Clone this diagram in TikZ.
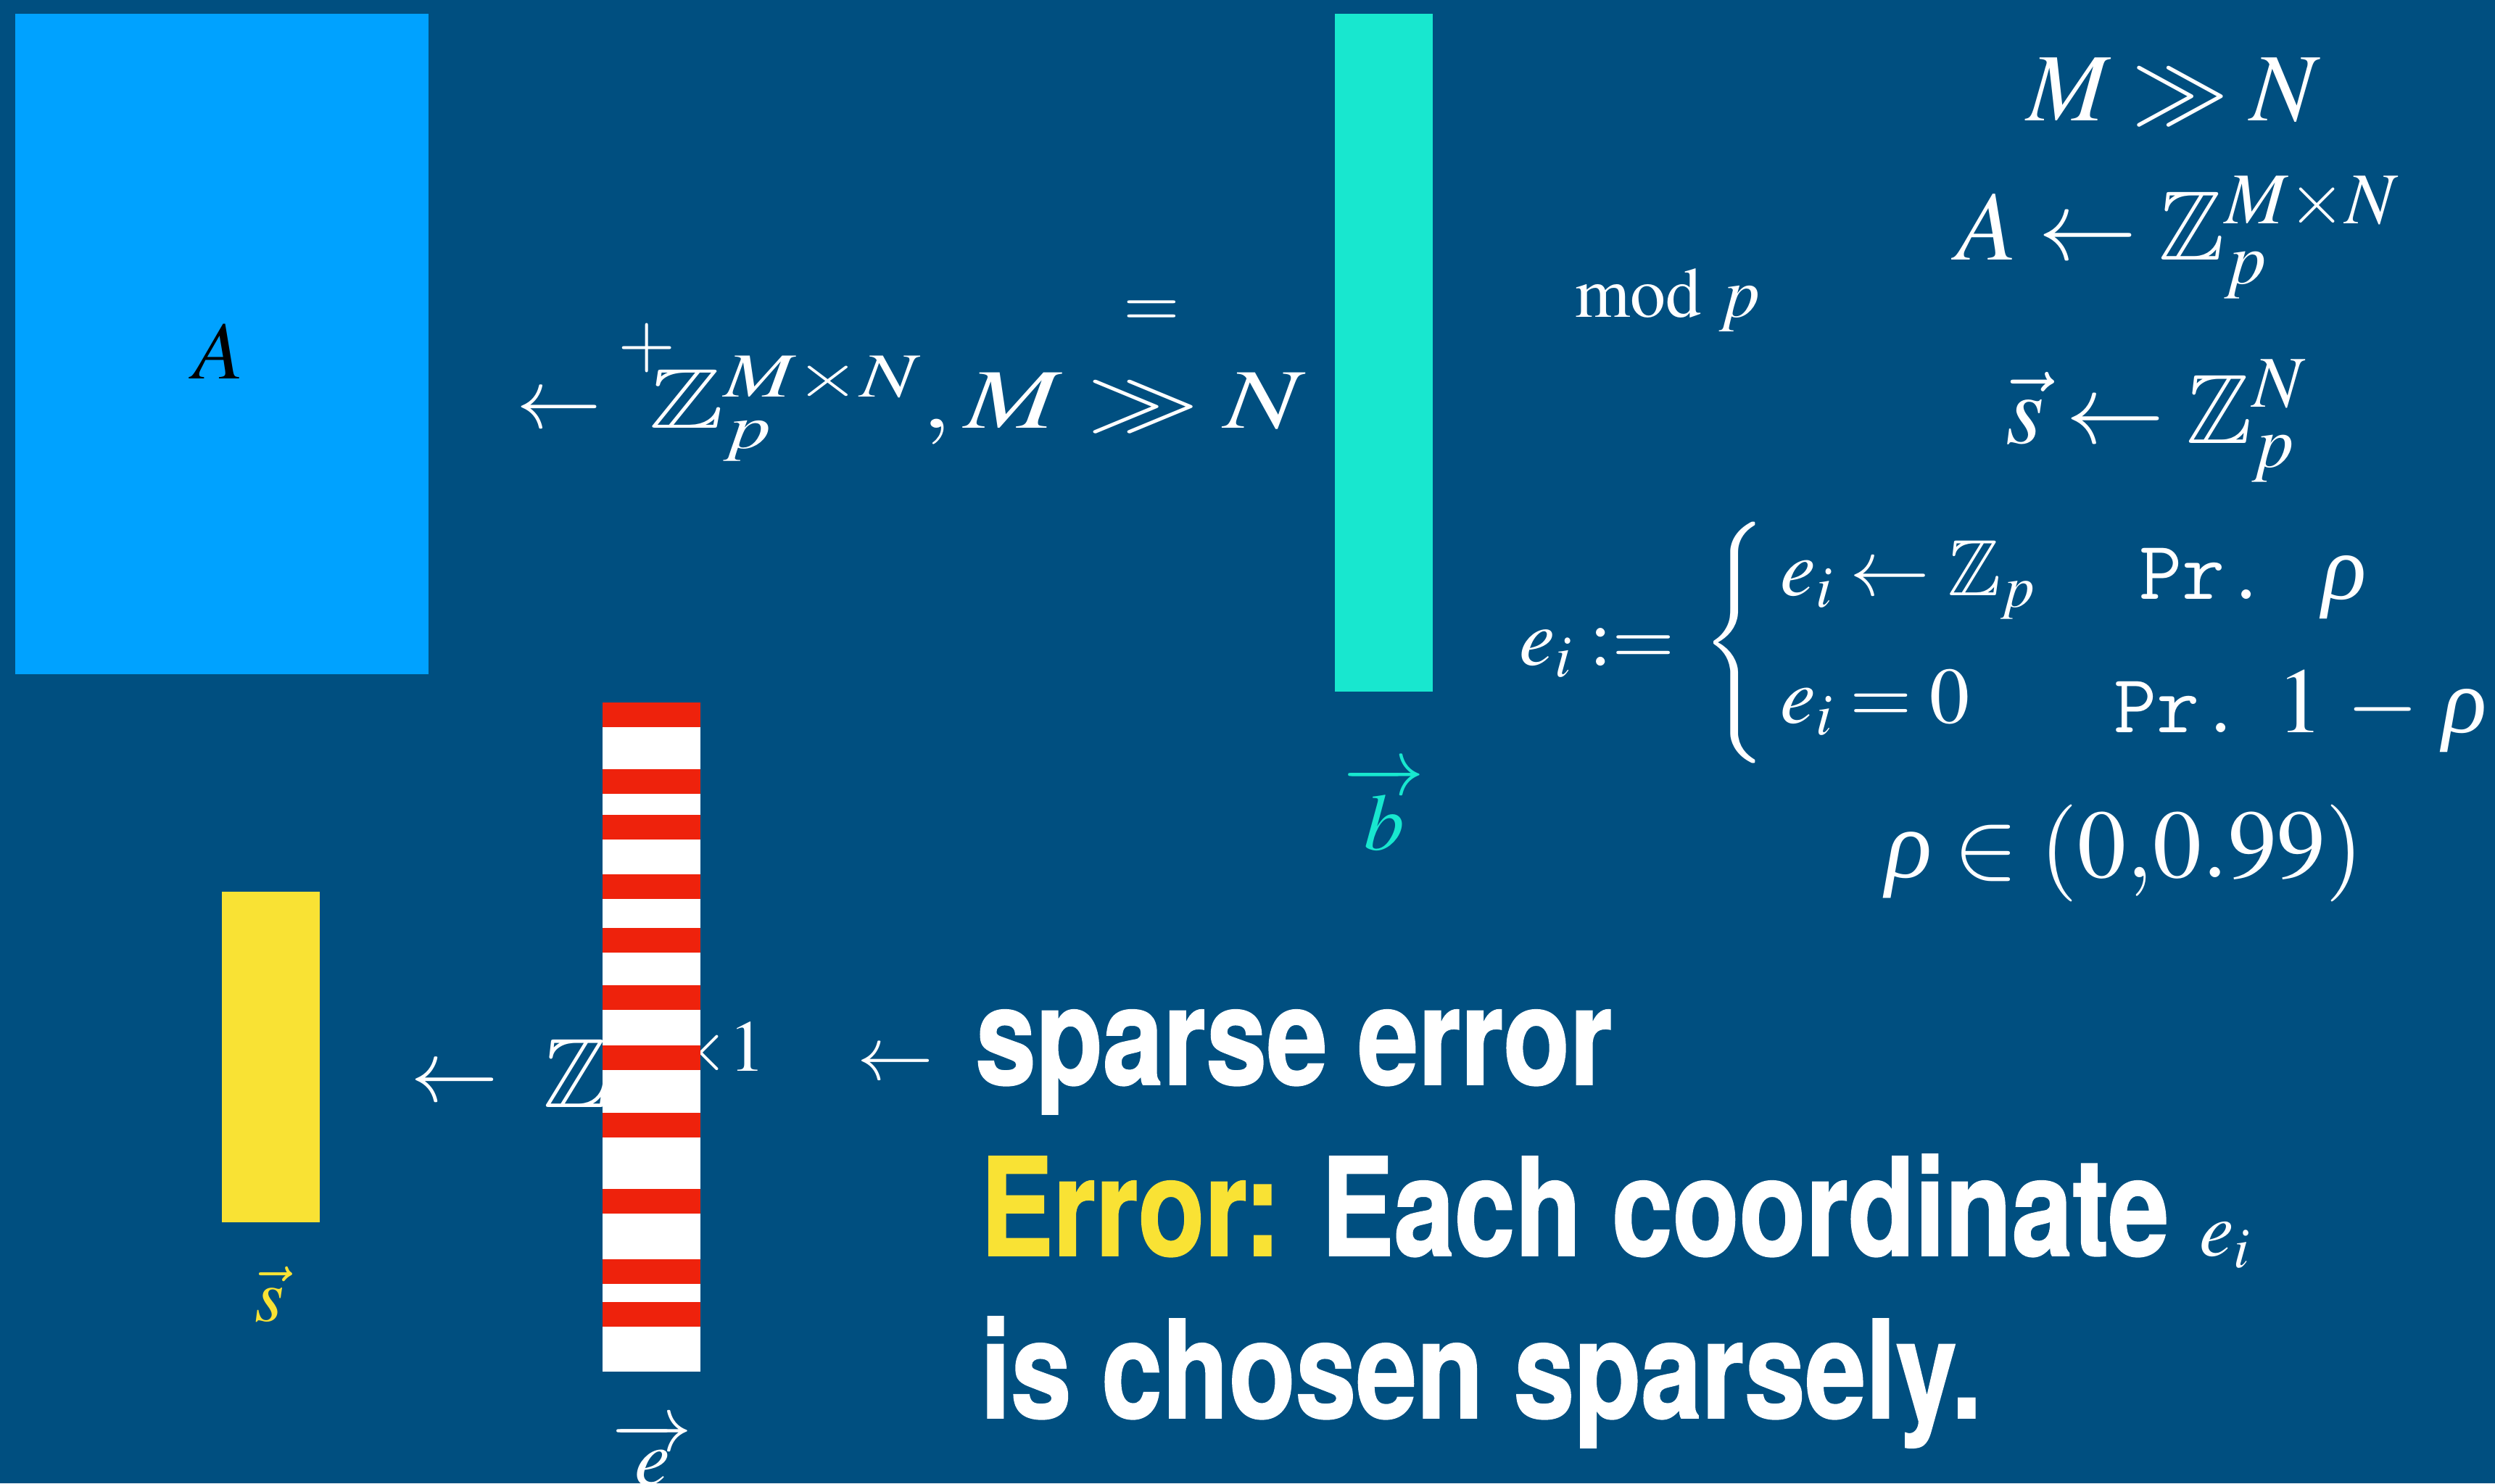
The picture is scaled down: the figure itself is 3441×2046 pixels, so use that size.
\documentclass[tikz,border=0pt]{standalone}
\usepackage{amssymb}
\usepackage{mathptmx}
\usepackage{graphicx}
\usepackage{fontspec}
\setmainfont{Liberation Serif}
\newfontfamily\condfont[FakeStretch=0.8, FakeBold=1]{TeX Gyre Heros}

\definecolor{slidebg}{RGB}{0,79,128}
\definecolor{matblue}{RGB}{0,162,255}
\definecolor{vecteal}{RGB}{24,231,207}
\definecolor{vecyellow}{RGB}{249,226,52}
\definecolor{errred}{RGB}{238,34,12}

\newcommand{\fsz}[1]{\fontsize{#1}{#1}\selectfont}
\newcommand{\rh}{\mbox{\itshape ρ}}

\tikzset{
  block/.style={inner sep=0pt, outer sep=0pt, anchor=north west},
  txt/.style={inner sep=0pt, anchor=base west, text=white},
}

\begin{document}
\begin{tikzpicture}[x=1pt, y=-1pt]
    \fill[slidebg] (0,0) rectangle (3441,2046);
    \useasboundingbox (0,0) rectangle (3441,2046);

    % matrix A
    \node[block, fill=matblue, minimum width=570, minimum height=911] (Amat) at (21,19) {};
    \node[txt, anchor=base, text=black, font=\fsz{113}] (Alabel) at (301,522) {$A$};

    % vector b
    \node[block, fill=vecteal, minimum width=135, minimum height=935] (bvec) at (1841,19) {};
    \node[txt, anchor=base, text=vecteal, font=\fsz{111}] (blabel) at (1909,1172) {$\overrightarrow{b}$};

    % vector s
    \node[block, fill=vecyellow, minimum width=135, minimum height=456] (svec) at (306,1230) {};
    \node[txt, anchor=base, text=vecyellow, font=\fsz{104}] (slabel) at (372,1822) {$\vec{s}$};

    % sampling text, half hidden by e
    \node[txt, font=\fsz{121}] (sarrow) at (566,1519) {$\leftarrow$};
    \node[txt, font=\fsz{136}] (ehidden) at (749,1527) {$\mathbb{Z}_p^{M\times 1}$};

    % vector e with sparse entries
    \node[block, fill=white, minimum width=135, minimum height=923] (evec) at (831,969) {};
    \foreach \ya/\yb in {969/1003, 1061/1095, 1124/1158, 1206/1240, 1280/1314, 1359/1393,
                         1442/1476, 1535/1569, 1640/1674, 1737/1771, 1796/1830}
        \fill[errred] (831,\ya) rectangle (966,\yb);
    \node[txt, anchor=base, font=\fsz{110}] (elabel) at (900,2048) {$\overrightarrow{e}$};

    \node[txt, anchor=base, font=\fsz{102}] (plus) at (892,505) {$+$};
    \node[txt, anchor=base, font=\fsz{100}] (eqsign) at (1588,451) {$=$};

    % A is sampled
    \node[txt, font=\fsz{117}] (Aarrow) at (712,590) {$\leftarrow$};
    \node[txt, font=\fsz{117}] (Asample) at (895,590) {\resizebox{905pt}{\height}{$\mathbb{Z}_p^{M\times N}, M \gg N$}};

    \node[txt, font=\fsz{98}] (modp) at (2172,437) {$\mathrm{mod}\ p$};

    % parameters
    \node[txt, font=\fsz{133}] (MgN) at (2795,166) {$M \gg N$};
    \node[txt, font=\fsz{136}] (Adist) at (2698,358) {$A \leftarrow \mathbb{Z}_p^{M\times N}$};
    \node[txt, font=\fsz{136}] (sdist) at (2766,611) {$\vec{s} \leftarrow \mathbb{Z}_p^{N}$};

    % error distribution
    \node[txt, font=\fsz{111}] (edef) at (2095,917) {$e_i :=$};
    \node[txt, anchor=center, font=\fsz{111}] (ebrace) at (2393,887) {$\left\{\vcenter{\hbox{\rule{0pt}{300pt}}}\right.$};
    \node[txt, font=\fsz{110}] (erowa) at (2455,821) {$e_i \leftarrow \mathbb{Z}_p$};
    \node[txt, font=\fsz{128}] (prowa) at (2950,826) {{\fsz{115}\ttfamily Pr.}\hspace{75pt}$\rh$};
    \node[txt, font=\fsz{110}] (erowb) at (2455,997) {$e_i = 0$};
    \node[txt, font=\fsz{128}] (prowb) at (2915,1010) {{\fsz{115}\ttfamily Pr.}\hspace{48pt}$1\,-\,\rh$};
    \node[txt, font=\fsz{134}] (rhorange) at (2600,1210) {$\rh \in (0{,}0.99)$};

    % explanation
    \node[txt, font=\fsz{105}] (sparrow) at (1182,1489) {$\leftarrow$};
    \node[txt, font=\condfont\bfseries\fsz{188}] (sparse) at (1345,1496) {sparse error};
    \node[txt, font=\condfont\bfseries\fsz{188}] (errline) at (1352,1732) {\textcolor{vecyellow}{Error:} Each coordinate {\fsz{107}$e_i$}};
    \node[txt, font=\condfont\bfseries\fsz{188}] (chosen) at (1352,1956) {is chosen sparsely.};
\end{tikzpicture}
\end{document}
